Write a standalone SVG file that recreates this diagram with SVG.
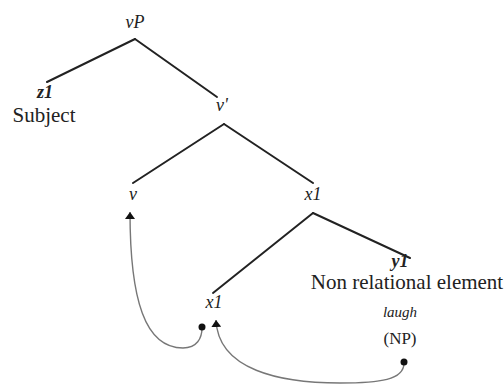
<svg xmlns="http://www.w3.org/2000/svg" width="504" height="387" viewBox="0 0 504 387">
<style>
.t{font-family:'Liberation Serif','DejaVu Serif',serif;fill:#222;text-anchor:middle}
.i{font-style:italic;font-size:18px}
.b{font-weight:bold}
.r{font-size:21px}
.edge{stroke:#222;stroke-width:2;fill:none;stroke-linecap:round}
.mv{stroke:#777;stroke-width:1.4;fill:none}
.dot{fill:#111}
</style>
<defs>
<marker id="ah" markerUnits="userSpaceOnUse" markerWidth="12" markerHeight="10" refX="7" refY="5" orient="auto-start-reverse" viewBox="0 0 12 10">
<path d="M0,0 L7,5 L0,10 Z" fill="#111"/>
</marker>
</defs>
<rect width="504" height="387" fill="#fff"/>
<g id="connectors">
<line class="edge" x1="135" y1="39" x2="47" y2="82"/>
<line class="edge" x1="135" y1="39" x2="217" y2="97"/>
<line class="edge" x1="224" y1="124" x2="133" y2="183"/>
<line class="edge" x1="224" y1="124" x2="313" y2="183"/>
<line class="edge" x1="313" y1="213" x2="213" y2="293"/>
<line class="edge" x1="313" y1="213" x2="410" y2="258"/>
<path class="mv" d="M130,212 C130,300 145,348 183,348 C197,348 202,338 202,328" marker-start="url(#ah)"/>
<path class="mv" d="M216,320 C218,370 280,383 340,383 C380,383 404,380 404,363" marker-start="url(#ah)"/>
<circle class="dot" cx="202" cy="327" r="3.5"/>
<circle class="dot" cx="404" cy="362" r="3.5"/>
</g>
<g id="vP"><text class="t i" x="135" y="28">vP</text></g>
<g id="z1"><text class="t i b" x="45" y="98">z1</text><text class="t r" x="44" y="122">Subject</text></g>
<g id="vbar"><text class="t i" x="222" y="111">v'</text></g>
<g id="v"><text class="t i" x="133" y="200">v</text></g>
<g id="x1top"><text class="t i" x="313" y="200">x1</text></g>
<g id="x1low"><text class="t i" x="214" y="308">x1</text></g>
<g id="y1"><text class="t i b" x="400" y="267">y1</text><text class="t r" x="407" y="289">Non relational element</text><text class="t" x="400" y="317" font-style="italic" font-size="15">laugh</text><text class="t" x="400" y="344" font-size="17">(NP)</text></g>
</svg>
